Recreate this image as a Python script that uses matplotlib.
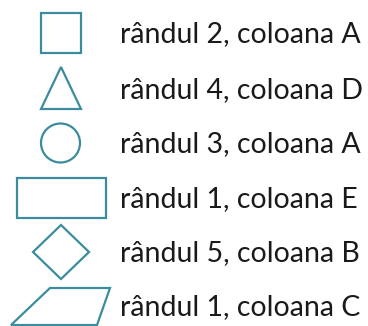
import matplotlib
matplotlib.use("Agg")
import matplotlib.pyplot as plt
from matplotlib.patches import Rectangle, Circle, Polygon

labels = ["rândul 2, coloana A", "rândul 4, coloana D", "rândul 3, coloana A",
          "rândul 1, coloana E", "rândul 5, coloana B", "rândul 1, coloana C"]
shapes = ["square", "triangle", "circle", "rectangle", "diamond", "parallelogram"]
row_y = [33, 89, 143, 198, 252, 306]

edge = "#3b8c9c"
lw = 1.6

fig = plt.figure(figsize=(3.68, 3.26), dpi=100)
ax = fig.add_axes([0, 0, 1, 1])
ax.set_xlim(0, 368)
ax.set_ylim(326, 0)
ax.axis("off")

cx = 61
for shp, y, lab in zip(shapes, row_y, labels):
    if shp == "square":
        p = Rectangle((cx - 20, y - 20), 40, 40)
    elif shp == "triangle":
        p = Polygon([(cx, y - 22), (cx + 20, y + 20), (cx - 20, y + 20)], closed=True)
    elif shp == "circle":
        p = Circle((cx - 0.5, y), 19.5)
    elif shp == "rectangle":
        p = Rectangle((cx - 44, y - 20), 89, 40)
    elif shp == "diamond":
        p = Polygon([(cx, y - 27), (cx + 28, y), (cx, y + 27), (cx - 28, y)], closed=True)
    else:
        p = Polygon([(cx - 11, y - 18), (cx + 49, y - 18), (cx + 36, y + 19), (cx - 50, y + 19)], closed=True)
    p.set_facecolor("white")
    p.set_edgecolor(edge)
    p.set_linewidth(lw)
    ax.add_patch(p)
    ax.text(120, y + 1, lab, fontsize=20.5, family="Lato", color="#1a1a1a",
            ha="left", va="center")

fig.savefig("out.png", dpi=100)
